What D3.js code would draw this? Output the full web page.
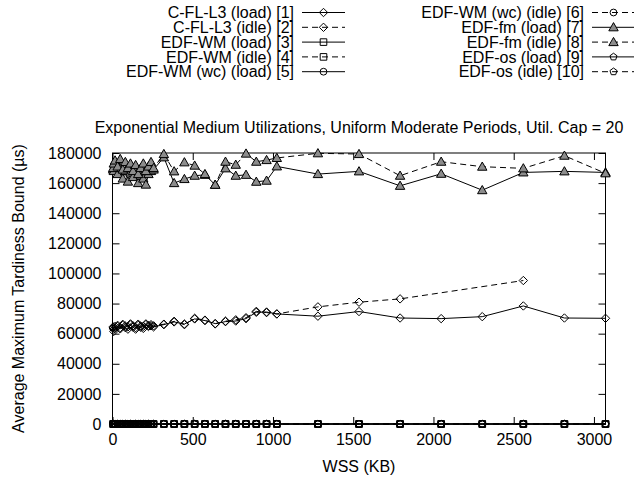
<!DOCTYPE html>
<html>
<head>
<meta charset="utf-8">
<script src="https://cdn.jsdelivr.net/npm/d3@7/dist/d3.min.js"></script>
<style>
  html, body { margin: 0; padding: 0; background: #fff; }
  svg { display: block; }
  text { font-family: "Liberation Sans", Arial, Helvetica, sans-serif; fill: #000; }
</style>
</head>
<body>
<script>
// Working set sizes (KB)
const wss = [4, 8, 16, 32, 48, 64, 80, 96, 112, 128, 144, 160, 176, 192, 208, 224, 240, 256,
  320, 384, 448, 512, 576, 640, 704, 768, 832, 896, 960, 1024,
  1280, 1536, 1792, 2048, 2304, 2560, 2816, 3072];

// Average maximum tardiness bound (µs) per scheduler
const cfl3Load = [63800, 61500, 63500, 64800, 63200, 65500, 64000, 63000, 65800, 64300, 63000, 65500, 64200, 63500, 66000, 64800, 65200, 64500,
  66000, 67800, 66400, 69800, 68700, 66700, 68000, 68400, 70000, 74200, 74400, 73100,
  71600, 74700, 70400, 70000, 71300, 78400, 70400, 70200];
const cfl3Idle = [64500, 63000, 64800, 65500, 64000, 66200, 65000, 64500, 66500, 65200, 64000, 66300, 65000, 64800, 66500, 65500, 66000, 65200,
  66300, 68200, 66000, 70200, 69000, 66500, 68300, 69200, 70600, 74800, 74000, 73100,
  77800, 80900, 83100, null, null, 95300, null, null];
const zeros = wss.map(() => 0);
const edfwmLoad = zeros.slice();
const edfwmIdle = zeros.slice();
const edfwmWcLoad = zeros.slice();
const edfwmWcIdle = zeros.slice();
const edffmLoad = [169000, 168000, 172000, 166000, 170000, 163000, 168000, 161000, 167000, 164000, 170000, 160000, 165000, 163000, 159000, 166000, 168000, 169000,
  177100, 160000, 162700, 164900, 165500, 158900, 169800, 164900, 165500, 160900, 161600, 171100,
  166000, 167800, 158200, 166200, 155300, 167100, 167800, 167100];
const edffmIdle = [170000, 173000, 175000, 171000, 176000, 169000, 174000, 170000, 173000, 168000, 172000, 166000, 170000, 173000, 168000, 171000, 174000, 170000,
  179300, 167800, 173800, 171600, 166000, 158900, 174200, 172200, 179600, 174200, 175300, 176700,
  179800, 179300, 164900, 174200, 170900, 169800, 178200, 166500];
const edfosLoad = zeros.slice();
const edfosIdle = zeros.slice();

const seriesNames = [
  "C-FL-L3 (load) [1]", "C-FL-L3 (idle) [2]", "EDF-WM (load) [3]", "EDF-WM (idle) [4]",
  "EDF-WM (wc) (load) [5]", "EDF-WM (wc) (idle) [6]", "EDF-fm (load) [7]", "EDF-fm (idle) [8]",
  "EDF-os (load) [9]", "EDF-os (idle) [10]"
];
const seriesValues = [cfl3Load, cfl3Idle, edfwmLoad, edfwmIdle, edfwmWcLoad, edfwmWcIdle,
  edffmLoad, edffmIdle, edfosLoad, edfosIdle];
const seriesMarks = ["diamond", "diamond", "square", "square", "circle", "circle",
  "triangle", "triangle", "pentagon", "pentagon"];

const xTicks = [0, 500, 1000, 1500, 2000, 2500, 3000];
const yTicks = [0, 20000, 40000, 60000, 80000, 100000, 120000, 140000, 160000, 180000];

const titleText = "Exponential Medium Utilizations, Uniform Moderate Periods, Util. Cap = 20";
const xLabel = "WSS (KB)";
const yLabel = "Average Maximum Tardiness Bound (µs)";

const W = 634, H = 477;
const plot = { left: 112.5, right: 605.5, top: 153, bottom: 424 };
const FS = 16;
const tickLen = 7;
const dash = "6,4";

const svg = d3.select("body").append("svg").attr("width", W).attr("height", H);

const x = d3.scaleLinear().domain([0, 3072]).range([plot.left, plot.right]);
const y = d3.scaleLinear().domain([0, 180000]).range([plot.bottom, plot.top]);

// marker path generators, centred at origin
function markPath(kind) {
  switch (kind) {
    case "diamond": { const r = 4.2; return `M0,${-r}L${r},0L0,${r}L${-r},0Z`; }
    case "square": { const r = 3.3; return `M${-r},${-r}H${r}V${r}H${-r}Z`; }
    case "circle": { const r = 3.4; return `M${r},0A${r},${r} 0 1,1 ${-r},0A${r},${r} 0 1,1 ${r},0Z`; }
    case "triangle": { const r = 4.7; return `M0,${-r}L${r},${r * 0.75}L${-r},${r * 0.75}Z`; }
    case "pentagon": {
      const r = 3.7;
      const pts = d3.range(5).map(i => {
        const a = -Math.PI / 2 + i * 2 * Math.PI / 5;
        return [r * Math.cos(a), r * Math.sin(a)];
      });
      return "M" + pts.map(p => p.join(",")).join("L") + "Z";
    }
  }
}
const markFill = { diamond: "none", square: "none", circle: "none", triangle: "#8c8c8c", pentagon: "none" };

// axes: ticks inward on all four sides
const axisG = svg.append("g");
const xAxisB = d3.axisBottom(x).tickValues(xTicks).tickSize(-tickLen).tickSizeOuter(0).tickPadding(10).tickFormat(d3.format("d"));
const xAxisT = d3.axisTop(x).tickValues(xTicks).tickSize(-tickLen).tickSizeOuter(0).tickFormat("");
const yAxisL = d3.axisLeft(y).tickValues(yTicks).tickSize(-tickLen).tickSizeOuter(0).tickPadding(11).tickFormat(d3.format("d"));
const yAxisR = d3.axisRight(y).tickValues(yTicks).tickSize(-tickLen).tickSizeOuter(0).tickFormat("");

function styleAxis(g) {
  g.select(".domain").remove();
  g.selectAll(".tick line").attr("stroke", "#000").attr("stroke-width", 1);
  g.selectAll(".tick text").attr("font-size", FS).attr("font-family", "Liberation Sans, Arial, sans-serif");
}
axisG.append("g").attr("transform", `translate(0,${plot.bottom})`).call(xAxisB).call(styleAxis);
axisG.append("g").attr("transform", `translate(0,${plot.top})`).call(xAxisT).call(styleAxis);
axisG.append("g").attr("transform", `translate(${plot.left},0)`).call(yAxisL).call(styleAxis);
axisG.append("g").attr("transform", `translate(${plot.right},0)`).call(yAxisR).call(styleAxis);

// frame
svg.append("rect")
  .attr("x", plot.left).attr("y", plot.top)
  .attr("width", plot.right - plot.left).attr("height", plot.bottom - plot.top)
  .attr("fill", "none").attr("stroke", "#000").attr("stroke-width", 1);

// series lines and markers
const line = d3.line().x(d => x(d[0])).y(d => y(d[1]));
seriesValues.forEach((vals, i) => {
  const pts = wss.map((w, j) => [w, vals[j]]).filter(p => p[1] !== null);
  const g = svg.append("g");
  g.append("path")
    .attr("d", line(pts))
    .attr("fill", "none").attr("stroke", "#000").attr("stroke-width", 1)
    .attr("stroke-dasharray", i % 2 === 1 ? dash : null);
  g.selectAll("path.mk").data(pts).join("path")
    .attr("class", "mk")
    .attr("d", markPath(seriesMarks[i]))
    .attr("transform", d => `translate(${x(d[0])},${y(d[1])})`)
    .attr("fill", markFill[seriesMarks[i]])
    .attr("stroke", "#000").attr("stroke-width", 1);
});

// legend, two columns of five
const legend = svg.append("g");
const colTextRight = [294, 584];
const colSample = [[302, 345], [592, 635]];
const rowY = d3.range(5).map(r => 12.5 + r * 14.8);
seriesNames.forEach((name, i) => {
  const c = Math.floor(i / 5), r = i % 5;
  const yy = rowY[r];
  legend.append("text")
    .attr("x", colTextRight[c]).attr("y", yy).attr("dy", "0.35em")
    .attr("text-anchor", "end").attr("font-size", FS).text(name);
  legend.append("line")
    .attr("x1", colSample[c][0]).attr("x2", colSample[c][1])
    .attr("y1", yy).attr("y2", yy)
    .attr("stroke", "#000").attr("stroke-width", 1)
    .attr("stroke-dasharray", i % 2 === 1 ? dash : null);
  legend.append("path")
    .attr("d", markPath(seriesMarks[i]))
    .attr("transform", `translate(${(colSample[c][0] + colSample[c][1]) / 2},${yy})`)
    .attr("fill", markFill[seriesMarks[i]]).attr("stroke", "#000");
});

// title and axis labels
svg.append("text")
  .attr("x", (plot.left + plot.right) / 2).attr("y", 127).attr("dy", "0.35em")
  .attr("text-anchor", "middle").attr("font-size", FS).text(titleText);
svg.append("text")
  .attr("x", (plot.left + plot.right) / 2).attr("y", 466).attr("dy", "0.35em")
  .attr("text-anchor", "middle").attr("font-size", FS).text(xLabel);
svg.append("text")
  .attr("transform", `translate(18,${(plot.top + plot.bottom) / 2}) rotate(-90)`)
  .attr("dy", "0.35em")
  .attr("text-anchor", "middle").attr("font-size", FS).text(yLabel);
</script>
</body>
</html>
